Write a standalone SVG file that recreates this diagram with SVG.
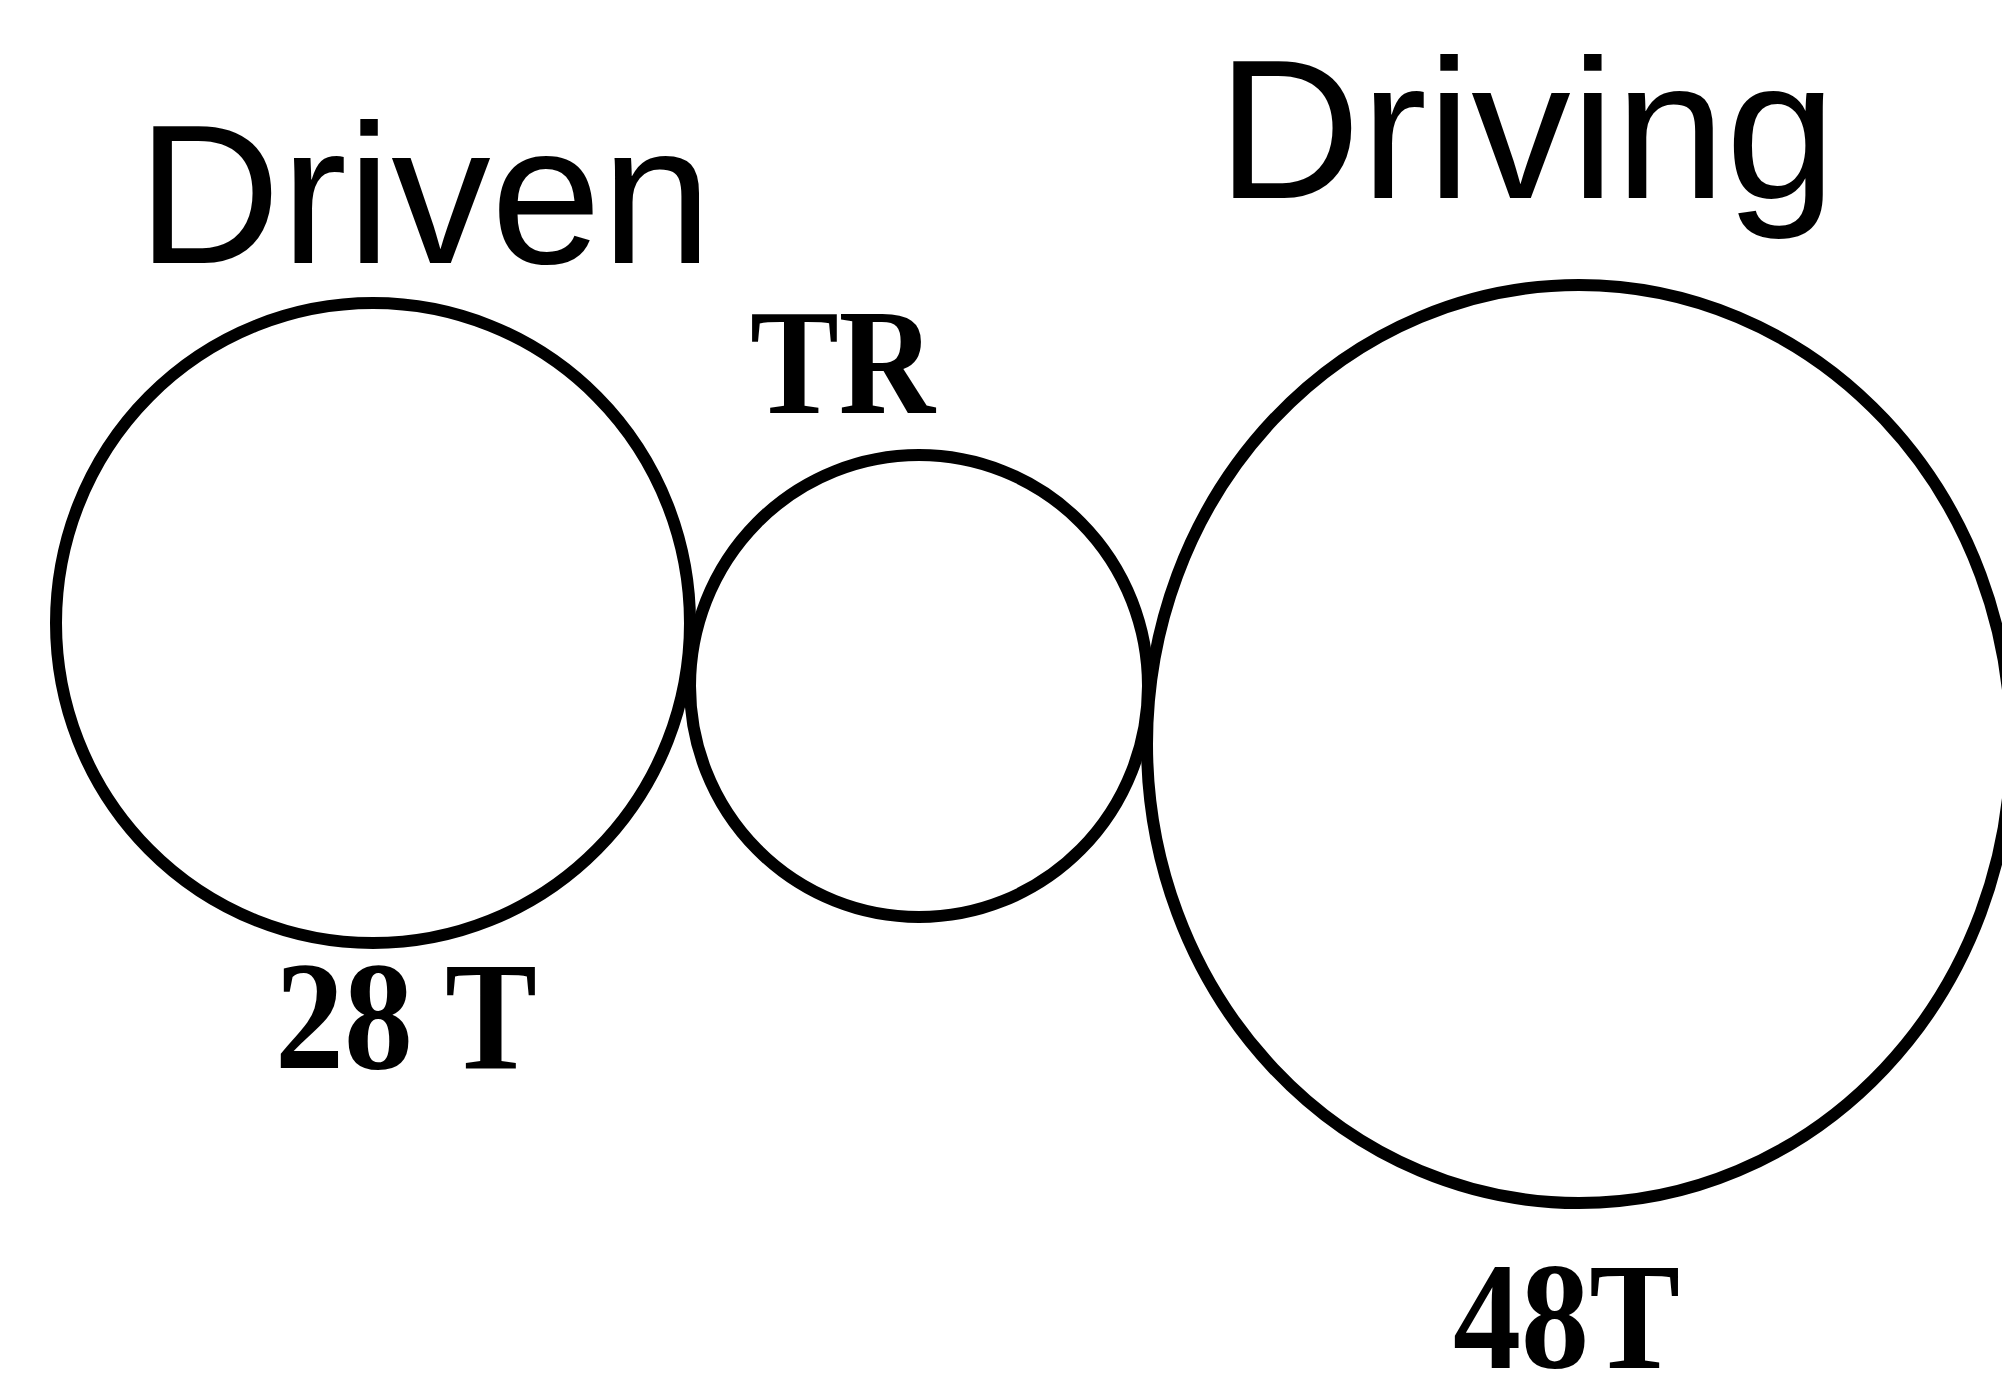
<svg xmlns="http://www.w3.org/2000/svg" width="2002" height="1383" viewBox="0 0 2002 1383">
  <style>
    .gear { fill: none; stroke: #000; stroke-width: 12; }
    .title { font-family: "Liberation Sans", Arial, sans-serif; font-size: 199px; fill: #000; }
    .lbl { font-family: "Liberation Serif", "Times New Roman", serif; font-weight: bold; fill: #000; }
  </style>
  <rect x="0" y="0" width="2002" height="1383" fill="#fff"/>
  <g id="driven">
    <ellipse class="gear" cx="373" cy="623" rx="317" ry="320"/>
    <text class="title" x="137" y="263">Driven</text>
    <text class="lbl" x="275" y="1068" font-size="155" textLength="262" lengthAdjust="spacingAndGlyphs">28 T</text>
  </g>
  <g id="tr">
    <ellipse class="gear" cx="919" cy="686" rx="229" ry="231"/>
    <text class="lbl" x="750" y="413" font-size="151" textLength="185" lengthAdjust="spacingAndGlyphs">TR</text>
  </g>
  <g id="driving">
    <ellipse class="gear" cx="1579" cy="744" rx="432" ry="459"/>
    <text class="title" x="1217" y="198">Driving</text>
    <text class="lbl" x="1453" y="1368" font-size="153" textLength="227" lengthAdjust="spacingAndGlyphs">48T</text>
  </g>
  <g id="connectors"></g>
</svg>
